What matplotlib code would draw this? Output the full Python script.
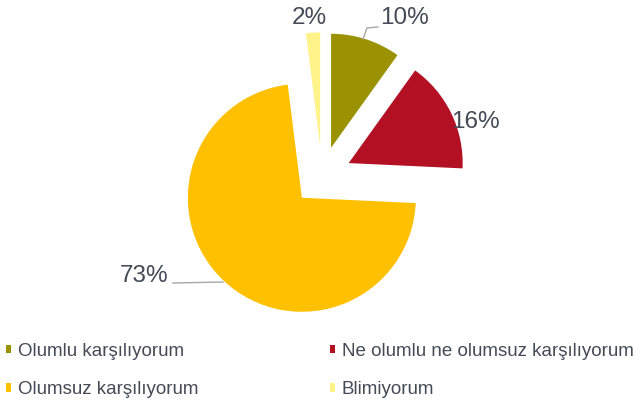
import matplotlib
matplotlib.use("Agg")
import matplotlib.pyplot as plt

labels = ["Olumlu karşılıyorum", "Ne olumlu ne olumsuz karşılıyorum",
          "Olumsuz karşılıyorum", "Blimiyorum"]
values = [10, 16, 73, 2]
colors = ["#9A9200", "#B31024", "#FFC000", "#FFF38A"]
pct_text = ["10%", "16%", "73%", "2%"]

W, H = 641, 403
cx, cy, R = 322, 176, 114  # pie centre / radius in pixels


def to_data(px, py):
    return (px - cx) / R, (cy - py) / R


plt.rcParams["font.family"] = ["Liberation Sans", "DejaVu Sans"]

fig = plt.figure(figsize=(W / 100, H / 100), dpi=100)
ax = fig.add_axes([0, 0, 1, 1])
wedges, _ = ax.pie(values, colors=colors, startangle=90, counterclock=False,
                   explode=[0.26] * 4, radius=1)
ax.set_xlim((0 - cx) / R, (W - cx) / R)
ax.set_ylim((cy - H) / R, cy / R)
ax.set_aspect("auto")
ax.axis("off")

# percentage labels (placed like the original)
label_pos = [(405, 18), (475, 122), (144, 276), (309, 18)]
for t, (px, py) in zip(pct_text, label_pos):
    x, y = to_data(px, py)
    ax.text(x, y, t, fontsize=17.5, color="#454a55", ha="center", va="center")

# leader lines
for pts in ([(363, 39), (367, 28), (378, 27)], [(173, 283), (223, 282)]):
    xs, ys = zip(*[to_data(*p) for p in pts])
    ax.plot(xs, ys, color="#A6A6A6", lw=1)

order = [0, 2, 1, 3]
leg = fig.legend([wedges[i] for i in order], [labels[i] for i in order],
                 ncol=2, loc="upper left", bbox_to_anchor=(0.0, 1 - 337 / H),
                 frameon=False, fontsize=13.5, handlelength=0.3, handleheight=0.3,
                 handletextpad=0.35, columnspacing=7.0, labelspacing=1.15,
                 borderaxespad=0, borderpad=0.3)
for t in leg.get_texts():
    t.set_color("#454a55")

fig.savefig("out.png", dpi=100)
